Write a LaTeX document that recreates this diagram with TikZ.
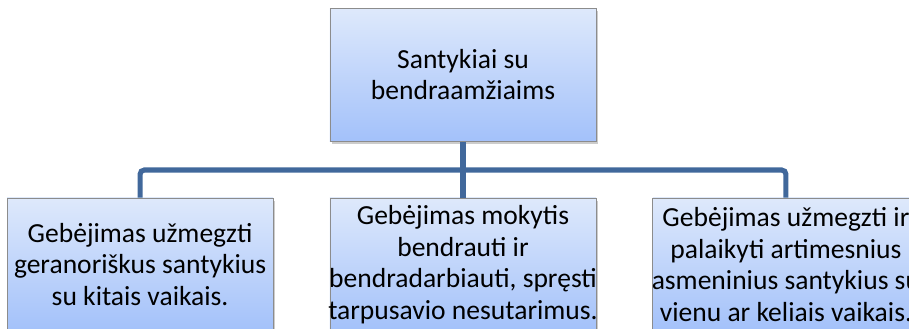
\documentclass[tikz,border=0pt]{standalone}
\usepackage{fontspec}
\setmainfont{Carlito}
\usepackage{tikz}
\usetikzlibrary{positioning,shadows}

\definecolor{boxtop}{RGB}{222,233,251}
\definecolor{boxbottom}{RGB}{163,193,250}
\definecolor{boxline}{RGB}{140,140,140}
\definecolor{linkblue}{RGB}{65,104,155}

\begin{document}
\begin{tikzpicture}[x=0.025cm, y=-0.025cm,
    box/.style={draw=boxline, line width=0.6pt, top color=boxtop, bottom color=boxbottom,
      minimum width=6.65cm, minimum height=3.325cm, align=center,
      inner xsep=-1cm, inner ysep=0pt,
      font=\fontsize{19.6}{22.4}\selectfont,
      drop shadow={shadow xshift=1.2pt, shadow yshift=-1.8pt, opacity=0.4}},
    link/.style={draw=linkblue, line width=3.6pt, rounded corners=3pt}]

    \useasboundingbox (0,0) rectangle (909,329);

    % Draw the boxes in the lower row
    \node[box] (mokytis) at (463,264.5) {Gebėjimas mokytis\\bendrauti ir\\bendradarbiauti, spręsti\\tarpusavio nesutarimus.};
    \node[box, left=1.4cm of mokytis] (geranoriskus) {Gebėjimas užmegzti\\geranoriškus santykius\\su kitais vaikais.};
    \node[box, right=1.4cm of mokytis] (artimesnius) {Gebėjimas užmegzti ir\\palaikyti artimesnius\\asmeninius santykius su\\vienu ar keliais vaikais.};

    % Draw the top box
    \node[box, above=1.4cm of mokytis] (santykiai) {Santykiai su\\bendraamžiaims};

    % Draw the connectors
    \coordinate (bus) at (463,170);
    \draw[link] (santykiai.south) -- (mokytis.north);
    \draw[link] (geranoriskus.north) |- (bus) -| (artimesnius.north);

\end{tikzpicture}
\end{document}
